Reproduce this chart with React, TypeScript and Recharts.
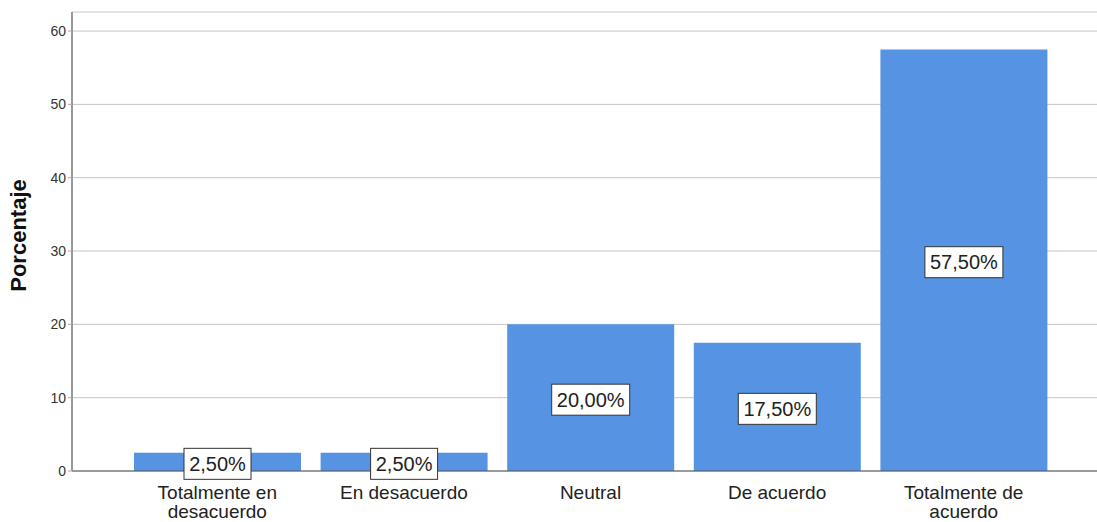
import { BarChart, Bar, XAxis, YAxis, CartesianGrid, LabelList } from 'recharts'

const categories = ['Totalmente en\ndesacuerdo', 'En desacuerdo', 'Neutral', 'De acuerdo', 'Totalmente de\nacuerdo']
const percents = [2.5, 2.5, 20.0, 17.5, 57.5]
const yTicks = [0, 10, 20, 30, 40, 50, 60]

const data = categories.map((c, i) => ({ name: c, value: percents[i] }))

const fmt = (v: number) => v.toFixed(2).replace('.', ',') + '%'

function CategoryTick(props: any) {
  const { x, y, payload } = props
  const lines = String(payload.value).split('\n')
  return (
    <text x={x} y={y + 20} textAnchor="middle" fontSize={19} fill="#222" fontFamily="Liberation Sans, Arial, sans-serif">
      {lines.map((l, i) => (
        <tspan key={i} x={x} dy={i === 0 ? 0 : 19}>{l}</tspan>
      ))}
    </text>
  )
}

function ValueBox(props: any) {
  const { x, y, width, height, value } = props
  const text = fmt(value)
  const w = text.length * 11 + 12
  const h = 31
  const cx = x + width / 2
  const cy = y + height / 2 + 2
  return (
    <g>
      <rect x={cx - w / 2} y={cy - h / 2} width={w} height={h} fill="#fff" stroke="#333" strokeWidth={1} />
      <text x={cx} y={cy + 7} textAnchor="middle" fontSize={20} fill="#222" fontFamily="Liberation Sans, Arial, sans-serif">
        {text}
      </text>
    </g>
  )
}

function YTitle(props: any) {
  const { viewBox } = props
  const x = viewBox.x + 26
  const y = viewBox.y + viewBox.height / 2 - 6
  return (
    <text x={x} y={y} transform={`rotate(-90 ${x} ${y})`} textAnchor="middle" fontSize={22} fontWeight="bold" fill="#111" fontFamily="Liberation Sans, Arial, sans-serif">
      Porcentaje
    </text>
  )
}

export default function App() {
  const tickStyle = { fontSize: 14, fill: '#333', fontFamily: 'Liberation Sans, Arial, sans-serif' }
  return (
    <div style={{ position: 'absolute', left: 0, top: 0, background: '#fff' }}>
      <BarChart width={1097} height={522} data={data} margin={{ top: 12, right: 0, left: 0, bottom: 0 }}>
        <CartesianGrid vertical={false} stroke="#c4c4c4" />
        <XAxis
          dataKey="name"
          height={51}
          interval={0}
          tick={<CategoryTick />}
          tickLine={false}
          axisLine={{ stroke: '#555' }}
          padding={{ left: 52, right: 40 }}
        />
        <YAxis
          width={72}
          domain={[0, 62.6]}
          ticks={yTicks}
          tick={tickStyle}
          tickSize={4}
          tickLine={{ stroke: '#aaa' }}
          axisLine={{ stroke: '#999', strokeWidth: 2 }}
          label={<YTitle />}
        />
        <Bar dataKey="value" fill="#5694e3" barSize={167} isAnimationActive={false}>
          <LabelList dataKey="value" content={<ValueBox />} />
        </Bar>
      </BarChart>
    </div>
  )
}
